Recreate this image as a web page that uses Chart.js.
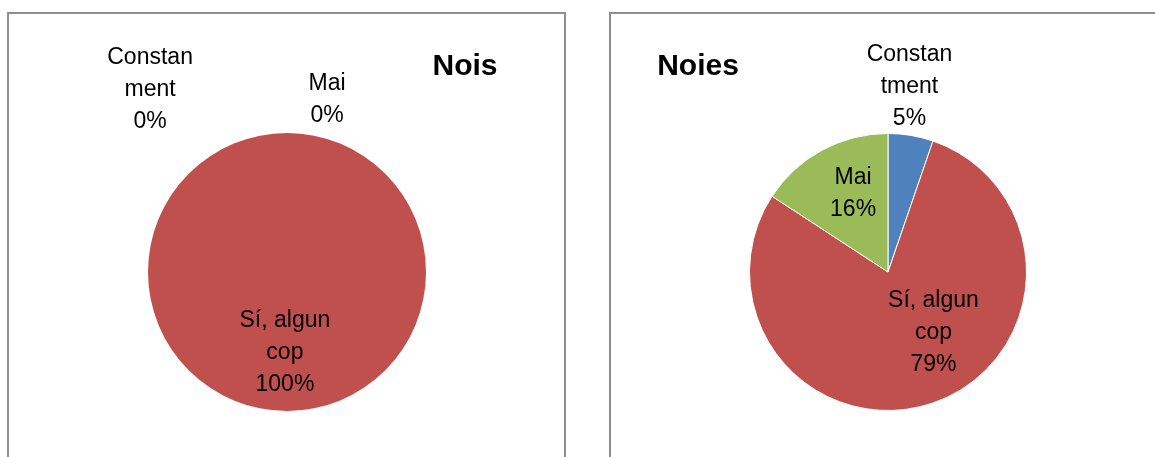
<!DOCTYPE html>
<html>
<head>
<meta charset="utf-8">
<script src="https://cdn.jsdelivr.net/npm/chart.js@4"></script>
<style>
    html, body { margin: 0; padding: 0; background: #fff; overflow: hidden; }
    .box {
        position: absolute;
        top: 12px;
        width: 559px;
        height: 470px;
        border: 2px solid #8e8e8e;
        box-sizing: border-box;
    }
    .box canvas { position: absolute; left: 0; top: 0; }
</style>
</head>
<body>
<div class="box" style="left:7px"><canvas id="noisChart" width="555" height="466"></canvas></div>
<div class="box" style="left:609px"><canvas id="noiesChart" width="555" height="466"></canvas></div>
<script>
// data
const noisCategories = ['Constanment', 'Sí, algun cop', 'Mai'];
const noisValues = [0, 100, 0];
const noiesCategories = ['Constantment', 'Sí, algun cop', 'Mai'];
const noiesValues = [1, 15, 3];
const sliceColors = ['#4f81bd', '#c0504d', '#9bbb59'];

const labelFont = '23px "Liberation Sans", Arial, sans-serif';
const titleFont = 'bold 30px "Liberation Sans", Arial, sans-serif';

// break a single long word into pieces no wider than maxW (Excel does this)
function splitWord(ctx, word, maxW) {
    let parts = [];
    let cur = '';
    for (const ch of word) {
        if (cur && ctx.measureText(cur + ch).width > maxW) {
            parts.push(cur);
            cur = ch;
        } else {
            cur += ch;
        }
    }
    if (cur) parts.push(cur);
    return parts;
}

function wordWrap(ctx, text, maxW) {
    const words = text.split(' ');
    let lines = [];
    let cur = '';
    words.forEach(function (w) {
        const test = cur ? cur + ' ' + w : w;
        if (ctx.measureText(test).width <= maxW) {
            cur = test;
        } else {
            if (cur) lines.push(cur);
            if (ctx.measureText(w).width > maxW) {
                const parts = splitWord(ctx, w, maxW);
                cur = parts.pop();
                lines = lines.concat(parts);
            } else {
                cur = w;
            }
        }
    });
    if (cur) lines.push(cur);
    return lines;
}

// draws the data labels and the chart title
const excelLabels = {
    id: 'excelLabels',
    afterDatasetsDraw(chart, args, opts) {
        const ctx = chart.ctx;
        const meta = chart.getDatasetMeta(0);
        const data = chart.data.datasets[0].data;
        const total = data.reduce(function (a, b) { return a + b; }, 0);
        ctx.save();
        ctx.fillStyle = '#000';
        ctx.textAlign = 'center';
        ctx.textBaseline = 'alphabetic';
        ctx.font = labelFont;
        meta.data.forEach(function (arc, i) {
            const r = arc.outerRadius;
            const pos = opts.positions[i];
            const cx = arc.x + pos[0] * r;
            const cy = arc.y + pos[1] * r;
            const pct = Math.round(data[i] / total * 100) + '%';
            const lines = wordWrap(ctx, chart.data.labels[i], 91.5).concat([pct]);
            const lh = 32;
            lines.forEach(function (l, j) {
                ctx.fillText(l, cx, cy + (j - (lines.length - 1) / 2) * lh + 8);
            });
        });
        ctx.font = titleFont;
        ctx.fillText(opts.title, opts.titleX, opts.titleY);
        ctx.restore();
    }
};

function makePie(id, categories, values, labelPositions, title, titleX, padLeft, padRight, border) {
    return new Chart(document.getElementById(id), {
        type: 'pie',
        data: {
            labels: categories,
            datasets: [{
                data: values,
                backgroundColor: sliceColors,
                borderColor: '#ffffff',
                borderWidth: border
            }]
        },
        options: {
            responsive: false,
            animation: false,
            layout: {
                padding: {left: padLeft, right: padRight, top: 119, bottom: 69}
            },
            plugins: {
                legend: {display: false},
                tooltip: {enabled: false},
                excelLabels: {
                    positions: labelPositions,
                    title: title,
                    titleX: titleX,
                    titleY: 61
                }
            }
        },
        plugins: [excelLabels]
    });
}

// label centres relative to the pie centre, in units of the radius
makePie('noisChart', noisCategories, noisValues,
    [[-0.985, -1.324], [-0.015, 0.568], [0.288, -1.255]],
    'Nois', 456, 139, 138, 0);
makePie('noiesChart', noiesCategories, noiesValues,
    [[0.155, -1.353], [0.328, 0.425], [-0.252, -0.579]],
    'Noies', 87, 138, 139, 1);
</script>
</body>
</html>
